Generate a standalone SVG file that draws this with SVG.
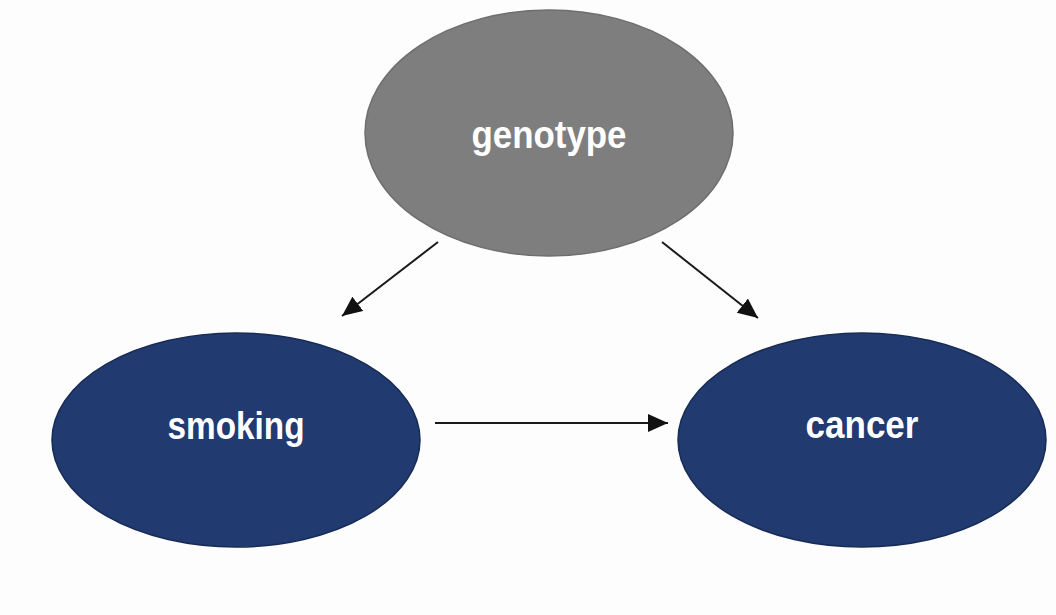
<svg xmlns="http://www.w3.org/2000/svg" width="1056" height="615" viewBox="0 0 1056 615">
  <defs>
    <marker id="arrow" markerUnits="userSpaceOnUse" markerWidth="22" markerHeight="20" refX="20" refY="9" orient="auto">
      <path d="M0,0 L20,9 L0,18 z" fill="#111"/>
    </marker>
    <style>
      .node-gray { fill: #7e7e7e; stroke: #6e6e6e; stroke-width: 1.5; }
      .node-blue { fill: #213a70; stroke: #172b55; stroke-width: 1.5; }
      .label { fill: #ffffff; font-family: "Liberation Sans", "DejaVu Sans", sans-serif; font-weight: bold; text-anchor: middle; }
      .edge { stroke: #1a1a1a; stroke-width: 2; fill: none; marker-end: url(#arrow); }
    </style>
  </defs>

  <rect width="1056" height="615" fill="#fdfdfd"/>

  <!-- connectors -->
  <g id="connectors">
    <line class="edge" x1="438" y1="242" x2="342" y2="316"/>
    <line class="edge" x1="662" y1="242" x2="758" y2="318"/>
    <line class="edge" x1="435" y1="423" x2="668" y2="423"/>
  </g>

  <g id="node-genotype">
    <ellipse class="node-gray" cx="549" cy="133" rx="184" ry="123"/>
    <text class="label" x="549" y="148" font-size="38" textLength="155" lengthAdjust="spacingAndGlyphs">genotype</text>
  </g>

  <g id="node-smoking">
    <ellipse class="node-blue" cx="236" cy="440" rx="184" ry="107"/>
    <text class="label" x="236" y="439" font-size="38" textLength="137" lengthAdjust="spacingAndGlyphs">smoking</text>
  </g>

  <g id="node-cancer">
    <ellipse class="node-blue" cx="862" cy="440" rx="184" ry="107"/>
    <text class="label" x="862" y="438" font-size="38" textLength="113" lengthAdjust="spacingAndGlyphs">cancer</text>
  </g>
</svg>
